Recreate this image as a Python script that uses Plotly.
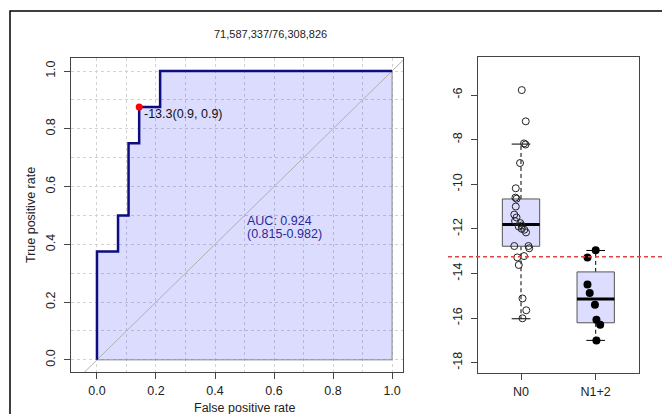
import plotly.graph_objects as go

# ---------------- data ----------------
title_text = "71,587,337/76,308,826"

# ROC curve (false positive rate, true positive rate)
roc_fpr = [0.0, 0.0, 0.0714, 0.0714, 0.107, 0.107, 0.143, 0.143, 0.214, 0.214, 1.0]
roc_tpr = [0.0, 0.375, 0.375, 0.5, 0.5, 0.75, 0.75, 0.875, 0.875, 1.0, 1.0]
best_fpr = 0.143
best_tpr = 0.875
best_label = "-13.3(0.9, 0.9)"
auc_label = "AUC: 0.924"
auc_ci_label = "(0.815-0.982)"
roc_ticks = [0.0, 0.2, 0.4, 0.6, 0.8, 1.0]
roc_ticklabels = ["0.0", "0.2", "0.4", "0.6", "0.8", "1.0"]

# Box plot summary
groups = ["N0", "N1+2"]
group_pos = [1, 2]
box_q1 = [-12.78, -16.21]
box_median = [-11.8, -15.14]
box_q3 = [-10.66, -13.93]
whisker_lo = [-16.03, -17.0]
whisker_hi = [-8.2, -12.97]
cutoff = -13.25

# Jittered points (x position as drawn, value)
n0_x = [1.01, 1.063, 1.04, 1.06, 0.987, 0.93, 0.925, 0.94, 0.93, 0.91, 0.94, 0.92,
        0.99, 1.01, 0.97, 1.01, 1.044, 1.067, 0.91, 1.10, 1.11, 1.04, 0.95, 0.97,
        1.02, 1.07, 1.02]
n0_y = [-5.78, -7.18, -8.17, -8.22, -9.05, -10.18, -10.6, -10.65, -11.0, -11.36, -11.49, -11.65,
        -11.74, -11.85, -11.9, -12.0, -12.04, -12.16, -12.77, -12.77, -12.87, -13.22, -13.28, -13.62,
        -15.12, -15.65, -16.01]
n12_x = [2.0, 1.89, 1.89, 1.92, 1.99, 2.01, 2.06, 2.01]
n12_y = [-12.96, -13.28, -14.5, -14.87, -15.4, -16.07, -16.3, -17.0]
box_ticks = [-18, -16, -14, -12, -10, -8, -6]

# ---------------- layout constants ----------------
W, H = 662, 414
FONT = "Liberation Sans, Arial, sans-serif"
LAV = "rgb(221,221,255)"
NAVY = "#0d0d80"
FRAME = "#444444"
GRID = "#d2d2d2"

def px_x(p):
    return p / W

def px_y(p):
    return 1 - p / H

fig = go.Figure()

# ---------- ROC panel ----------
poly_x = roc_fpr + [1.0, 0.0]
poly_y = roc_tpr + [0.0, 0.0]
fig.add_trace(go.Scatter(x=poly_x, y=poly_y, mode="lines", fill="toself",
                         fillcolor="rgba(40,40,255,0.16)",
                         line=dict(color="#888888", width=1),
                         xaxis="x", yaxis="y", hoverinfo="skip"))
fig.add_trace(go.Scatter(x=[-0.2, 1.2], y=[-0.2, 1.2], mode="lines",
                         line=dict(color="#b0b0b0", width=1),
                         xaxis="x", yaxis="y", hoverinfo="skip"))
fig.add_trace(go.Scatter(x=roc_fpr, y=roc_tpr, mode="lines",
                         line=dict(color=NAVY, width=2.5),
                         xaxis="x", yaxis="y"))
fig.add_trace(go.Scatter(x=[best_fpr], y=[best_tpr], mode="markers",
                         marker=dict(color="#ff0000", size=7),
                         xaxis="x", yaxis="y", cliponaxis=False))

# ---------- box panel ----------
half_w = 0.25
cap_w = 0.125
for i, pos in enumerate(group_pos):
    # whiskers (dashed)
    fig.add_trace(go.Scatter(x=[pos, pos], y=[box_q3[i], whisker_hi[i]], mode="lines",
                             line=dict(color="black", width=1, dash="4px,3px"),
                             xaxis="x2", yaxis="y2"))
    fig.add_trace(go.Scatter(x=[pos, pos], y=[box_q1[i], whisker_lo[i]], mode="lines",
                             line=dict(color="black", width=1, dash="4px,3px"),
                             xaxis="x2", yaxis="y2"))
    # caps
    for v in (whisker_hi[i], whisker_lo[i]):
        fig.add_trace(go.Scatter(x=[pos - cap_w, pos + cap_w], y=[v, v], mode="lines",
                                 line=dict(color="black", width=1),
                                 xaxis="x2", yaxis="y2"))
    # box
    fig.add_trace(go.Scatter(x=[pos - half_w, pos + half_w, pos + half_w, pos - half_w, pos - half_w],
                             y=[box_q1[i], box_q1[i], box_q3[i], box_q3[i], box_q1[i]],
                             mode="lines", fill="toself", fillcolor=LAV,
                             line=dict(color="#555555", width=1),
                             xaxis="x2", yaxis="y2"))
    # median
    fig.add_trace(go.Scatter(x=[pos - half_w, pos + half_w], y=[box_median[i], box_median[i]],
                             mode="lines", line=dict(color="black", width=3),
                             xaxis="x2", yaxis="y2"))

fig.add_trace(go.Scatter(x=n0_x, y=n0_y, mode="markers",
                         marker=dict(symbol="circle-open", size=7, color="#222222",
                                     line=dict(width=1)),
                         xaxis="x2", yaxis="y2"))
fig.add_trace(go.Scatter(x=n12_x, y=n12_y, mode="markers",
                         marker=dict(symbol="circle", size=8, color="black"),
                         xaxis="x2", yaxis="y2"))

# ---------------- axes ----------------
tickfont = dict(family=FONT, size=12.5, color="#222222")
common = dict(showline=True, mirror=True, linecolor=FRAME, linewidth=1,
              ticks="outside", ticklen=6, tickcolor=FRAME, tickwidth=1,
              zeroline=False, tickfont=tickfont)

fig.update_layout(
    width=W, height=H,
    margin=dict(l=0, r=0, t=0, b=0),
    paper_bgcolor="white", plot_bgcolor="white",
    showlegend=False,
    xaxis=dict(domain=[px_x(71), px_x(403)], range=[-0.088, 1.037],
               tickvals=roc_ticks, ticktext=roc_ticklabels,
               showgrid=True, gridcolor=GRID, griddash="dot", gridwidth=1,
               minor=dict(dtick=0.1, tick0=0, showgrid=True, gridcolor=GRID,
                          griddash="dot", ticks=""),
               ticklabelstandoff=1, anchor="y", **common),
    yaxis=dict(domain=[px_y(372), px_y(58)], range=[-0.042, 1.045],
               tickvals=roc_ticks, ticktext=roc_ticklabels, tickangle=-90,
               showgrid=True, gridcolor=GRID, griddash="dot", gridwidth=1,
               minor=dict(dtick=0.1, tick0=0, showgrid=True, gridcolor=GRID,
                          griddash="dot", ticks=""),
               ticklabelstandoff=4, anchor="x", **common),
    xaxis2=dict(domain=[px_x(477.7), px_x(639)], range=[0.42, 2.58],
                tickvals=group_pos, ticktext=groups, showgrid=False,
                ticklabelstandoff=1, anchor="y2", **common),
    yaxis2=dict(domain=[px_y(373.3), px_y(57.3)], range=[-18.475, -4.31],
                tickvals=box_ticks, ticktext=[str(v) for v in box_ticks], tickangle=-90,
                showgrid=False, ticklabelstandoff=4, anchor="x2", **common),
)

annotations = [
    dict(text=title_text, x=px_x(270.7), y=px_y(34), xref="paper", yref="paper",
         xanchor="center", yanchor="middle",
         showarrow=False, font=dict(family=FONT, size=11, color="#222222")),
    dict(text="True positive rate", x=px_x(31), y=px_y(215), xref="paper", yref="paper",
         xanchor="center", yanchor="middle",
         textangle=-90, showarrow=False, font=dict(family=FONT, size=12.5, color="#222222")),
    dict(text="False positive rate", x=px_x(244.5), y=px_y(407.5), xref="paper", yref="paper",
         xanchor="center", yanchor="middle",
         showarrow=False, font=dict(family=FONT, size=12.5, color="#222222")),
    dict(text=auc_label, x=0.5, y=0.482, xref="x", yref="y", xanchor="left", yanchor="middle",
         showarrow=False, font=dict(family=FONT, size=12.5, color="#2a2a9a")),
    dict(text=auc_ci_label, x=0.5, y=0.436, xref="x", yref="y", xanchor="left", yanchor="middle",
         showarrow=False, font=dict(family=FONT, size=12.5, color="#2a2a9a")),
    dict(text=best_label, x=best_fpr, y=best_tpr, xref="x", yref="y", xanchor="left",
         yanchor="middle", xshift=3, yshift=-7,
         showarrow=False, font=dict(family=FONT, size=12.5, color="#111111")),
]
fig.update_layout(annotations=annotations)

shapes = [
    # outer black frame (continues past the right and bottom edges)
    dict(type="rect", xref="paper", yref="paper", x0=px_x(10), x1=1.2, y0=-0.2, y1=px_y(11),
         line=dict(color="black", width=1.5), fillcolor="rgba(0,0,0,0)", layer="above"),
    # cutoff line across the box panel
    dict(type="line", xref="paper", yref="y2", x0=px_x(448), x1=1.05, y0=cutoff, y1=cutoff,
         line=dict(color="#dd4444", width=1.5, dash="4px,3px"), layer="above"),
]
fig.update_layout(shapes=shapes)

fig.write_html(
    "out.html",
    config={"displayModeBar": False},
    post_script="document.body.style.margin='0';document.body.style.overflow='hidden';",
)
